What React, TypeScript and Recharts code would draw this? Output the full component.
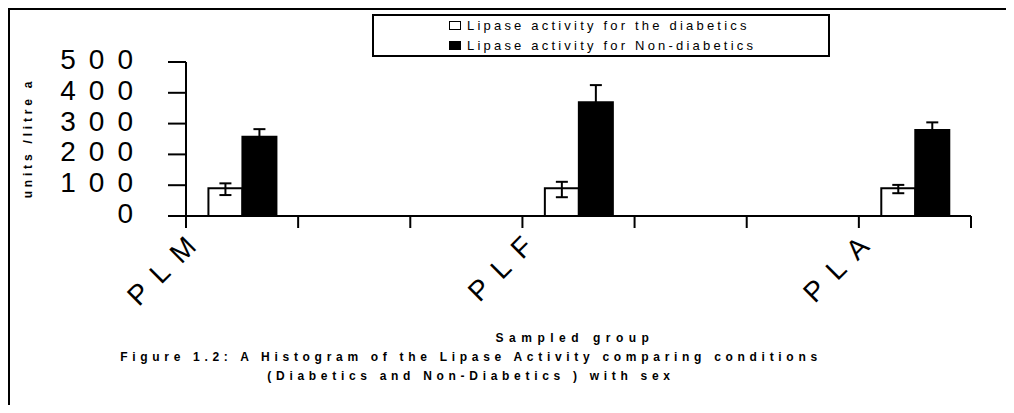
import React from 'react';
import { BarChart, Bar, XAxis, YAxis, ErrorBar, Legend } from 'recharts';

const FONT = '"Liberation Sans", Arial, sans-serif';

// seven slots on the category axis, only three of them hold a group
const groups = ['PLM', '', '', 'PLF', '', '', 'PLA'];
const slots = [0.5, 1.5, 2.5, 3.5, 4.5, 5.5, 6.5];
const diabetic = [90, null, null, 90, null, null, 90];
const diabeticErr = [[22, 16], null, null, [29, 21], null, null, [16, 11]];
const nonDiabetic = [257, null, null, 369, null, null, 279];
const nonDiabeticErr = [25, null, null, 56, null, null, 25];

const yTicks = [0, 100, 200, 300, 400, 500];
const slotTicks = [0, 1, 2, 3, 4, 5, 6, 7];

const seriesOrder = ['diabetic', 'nonDiabetic'];
const seriesNames: Record<string, string> = {
  diabetic: 'Lipase activity for the diabetics',
  nonDiabetic: 'Lipase activity for Non-diabetics',
};
const seriesFill: Record<string, string> = { diabetic: '#ffffff', nonDiabetic: '#000000' };

const data = groups.map((g, i) => ({
  group: g,
  slot: slots[i],
  diabetic: diabetic[i],
  diabeticErr: diabeticErr[i],
  nonDiabetic: nonDiabetic[i],
  nonDiabeticErr: nonDiabeticErr[i],
}));

const YTick = (props: any) => {
  const { x, y, payload } = props;
  return (
    <text x={x} y={y} dy={7} textAnchor="end" fontSize={28} letterSpacing={13} fill="#000" fontFamily={FONT}>
      {payload.value}
    </text>
  );
};

const SlotTick = (props: any) => {
  const { x, y, payload } = props;
  const label = groups[payload.value];
  if (!label) return <g />;
  const ax = x + 21;
  const ay = y + 9;
  return (
    <text
      x={ax}
      y={ay}
      textAnchor="end"
      transform={`rotate(-45, ${ax}, ${ay})`}
      fontSize={28}
      letterSpacing={13}
      fill="#000"
      fontFamily={FONT}
    >
      {label}
    </text>
  );
};

const LegendBox = (props: any) => {
  const items = [...(props.payload || [])].sort(
    (a: any, b: any) => seriesOrder.indexOf(a.dataKey) - seriesOrder.indexOf(b.dataKey)
  );
  return (
    <div
      style={{
        width: 379,
        height: 39,
        border: '2px solid #000',
        background: '#fff',
        paddingLeft: 75,
        boxSizing: 'content-box',
        fontFamily: FONT,
        fontSize: 13,
        letterSpacing: 3.2,
        color: '#000',
      }}
    >
      {items.map((it: any) => (
        <div key={it.dataKey} style={{ height: 19.5, display: 'flex', alignItems: 'center', whiteSpace: 'nowrap' }}>
          <span
            style={{
              display: 'inline-block',
              width: 10,
              height: 7,
              border: '1.5px solid #000',
              background: seriesFill[it.dataKey],
              marginRight: 6,
            }}
          />
          <span>{it.value}</span>
        </div>
      ))}
    </div>
  );
};

const textStyle: React.CSSProperties = {
  position: 'absolute',
  fontFamily: FONT,
  fontWeight: 'bold',
  fontSize: 12,
  color: '#000',
  whiteSpace: 'nowrap',
  transform: 'translate(-50%, -50%)',
};

export default function App() {
  return (
    <div style={{ position: 'relative', width: 998, height: 397, overflow: 'hidden', background: '#fff' }}>
      <div
        style={{
          position: 'absolute',
          left: 0,
          top: 0,
          width: 1100,
          height: 500,
          borderTop: '2px solid #000',
          borderLeft: '2px solid #000',
        }}
      />
      <div style={{ position: 'absolute', left: 0, top: 0 }}>
        <BarChart
          width={998}
          height={397}
          data={data}
          margin={{ top: 54, right: 35, bottom: 129, left: 0 }}
          barCategoryGap="20%"
          barGap={0}
        >
          <XAxis xAxisId="cat" hide orientation="top" height={0} />
          <XAxis
            xAxisId="slots"
            dataKey="slot"
            type="number"
            domain={[0, 7]}
            ticks={slotTicks}
            allowDataOverflow
            interval={0}
            tickSize={12}
            height={60}
            axisLine={{ stroke: '#000', strokeWidth: 2 }}
            tickLine={{ stroke: '#000', strokeWidth: 2 }}
            tick={<SlotTick />}
          />
          <YAxis
            domain={[0, 500]}
            ticks={yTicks}
            width={178}
            tickSize={18}
            tickMargin={22}
            axisLine={{ stroke: '#000', strokeWidth: 2 }}
            tickLine={{ stroke: '#000', strokeWidth: 2 }}
            tick={<YTick />}
          />
          <Legend
            layout="vertical"
            align="center"
            verticalAlign="middle"
            wrapperStyle={{ left: 364, top: 6, width: 'auto', height: 'auto' }}
            content={<LegendBox />}
          />
          <Bar
            xAxisId="cat"
            dataKey="diabetic"
            name={seriesNames.diabetic}
            fill={seriesFill.diabetic}
            stroke="#000"
            strokeWidth={2}
            isAnimationActive={false}
          >
            <ErrorBar dataKey="diabeticErr" width={6} stroke="#000" strokeWidth={2} />
          </Bar>
          <Bar
            xAxisId="cat"
            dataKey="nonDiabetic"
            name={seriesNames.nonDiabetic}
            fill={seriesFill.nonDiabetic}
            stroke="#000"
            strokeWidth={2}
            isAnimationActive={false}
          >
            <ErrorBar dataKey="nonDiabeticErr" width={6} stroke="#000" strokeWidth={2} />
          </Bar>
        </BarChart>
      </div>
      <div style={{ ...textStyle, left: 20, top: 130, fontSize: 12, letterSpacing: 3.8, transform: 'translate(-50%, -50%) rotate(-90deg)' }}>
        units /litre a
      </div>
      <div style={{ ...textStyle, left: 567, top: 330, letterSpacing: 5.5 }}>Sampled group</div>
      <div style={{ ...textStyle, left: 463, top: 349, letterSpacing: 4.7 }}>
        Figure 1.2: A Histogram of the Lipase Activity comparing conditions
      </div>
      <div style={{ ...textStyle, left: 463, top: 368, letterSpacing: 4.7 }}>
        (Diabetics and Non-Diabetics ) with sex
      </div>
    </div>
  );
}
